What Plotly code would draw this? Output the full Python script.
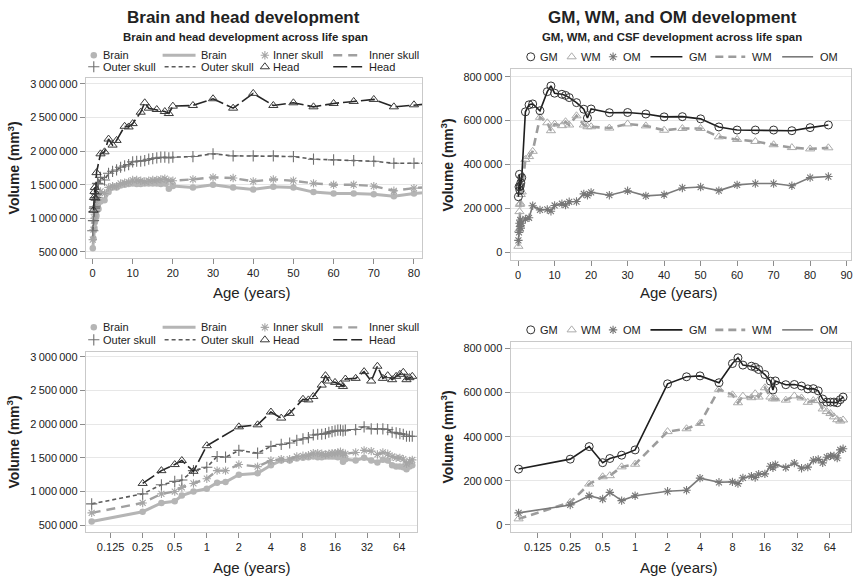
import plotly.graph_objects as go

# ---------------- data ----------------
# Ages (years) for the brain / skull / head measurements
AGE = [0.083, 0.25, 0.375, 0.5, 0.583, 0.75, 1, 1.25, 1.5, 2, 3, 4, 5, 6, 7, 8, 9, 10,
       11, 12, 13, 14, 15, 16, 17, 18, 19, 20, 25, 30, 35, 40, 45, 50, 55, 60, 65, 70,
       75, 80, 85]
BRAIN = [555, 700, 830, 856, 940, 1000, 1040, 1130, 1140, 1250, 1270, 1390, 1460, 1460,
         1490, 1500, 1510, 1520, 1510, 1510, 1520, 1520, 1520, 1520, 1510, 1520, 1440,
         1480, 1460, 1500, 1460, 1430, 1470, 1460, 1390, 1370, 1370, 1360, 1330, 1370, 1390]
INNER_SKULL = [683, 830, 965, 1000, 1060, 1120, 1190, 1310, 1310, 1400, 1370, 1460, 1480,
               1480, 1520, 1530, 1540, 1570, 1570, 1560, 1550, 1560, 1570, 1570, 1580, 1590,
               1560, 1560, 1580, 1610, 1600, 1550, 1580, 1560, 1520, 1500, 1500, 1480, 1410,
               1450, 1470]
OUTER_SKULL = [816, 965, 1100, 1150, 1170, 1310, 1360, 1520, 1510, 1610, 1570, 1670, 1700,
               1720, 1760, 1780, 1800, 1840, 1850, 1850, 1860, 1880, 1890, 1900, 1910, 1910,
               1900, 1910, 1920, 1960, 1930, 1930, 1930, 1920, 1880, 1870, 1860, 1850, 1820,
               1820, 1820]
HEAD = [None, 1120, 1310, 1400, 1460, 1300, 1680, None, None, 1960, 1990, 2180, 2090, 2160,
        None, 2370, 2360, 2410, None, 2580, 2720, 2640, None, 2620, None, 2590, 2560, 2670,
        2680, 2780, 2640, 2860, 2680, 2720, 2660, 2710, 2740, 2770, 2660, 2690, 2710]

# Ages (years) for the tissue measurements
AGE_T = [0.083, 0.25, 0.375, 0.5, 0.583, 0.75, 1, 2, 3, 4, 6, 8, 9, 10, 12, 13, 14, 16, 18,
         19, 20, 25, 30, 35, 40, 45, 50, 55, 60, 65, 70, 75, 80, 85]
GM = [253, 298, 355, 282, 301, 316, 340, 640, 672, 676, 645, 732, 758, 725, 720, 715, 705,
      682, 652, 612, 653, 636, 637, 630, 617, 618, 608, 571, 557, 557, 557, 554, 568, 580]
WM = [27, 102, 185, 218, 223, 263, 275, 423, 436, 460, 615, 590, 554, 584, 577, 595, 580,
      622, 580, 572, 572, 566, 585, 576, 556, 564, 564, 526, 514, 505, 490, 477, 471, 476]
OM = [54, 90, 132, 117, 147, 110, 132, 152, 157, 212, 193, 195, 187, 213, 221, 215, 230,
      231, 266, 259, 273, 260, 280, 257, 262, 293, 297, 281, 307, 313, 313, 303, 340, 345]

LIN_TICKS_L = [0, 10, 20, 30, 40, 50, 60, 70, 80]
LIN_TICKS_R = [0, 10, 20, 30, 40, 50, 60, 70, 80, 90]
LOG_TICKS = [0.125, 0.25, 0.5, 1, 2, 4, 8, 16, 32, 64]
LOG_LABELS = ["0.125", "0.25", "0.5", "1", "2", "4", "8", "16", "32", "64"]
Y_TICKS_L = [500000, 1000000, 1500000, 2000000, 2500000, 3000000]
Y_TICKS_R = [0, 200000, 400000, 600000, 800000]

W, H = 855, 577
FONT = "Liberation Sans, Arial, Helvetica, sans-serif"
TXT = "#222222"


def k(vals):
    return [None if v is None else v * 1000 for v in vals]


def fmt(v):
    return f"{v:,}".replace(",", "\u2009")


def xdom(a, b):
    return [a / W, b / W]


def ydom(top, bottom):
    return [1 - bottom / H, 1 - top / H]


def open_marker(symbol, size, color, width=1.0):
    return dict(symbol=symbol, size=size, color=color, line=dict(color=color, width=width))


STYLE = {
    "Brain": dict(marker=dict(symbol="circle", size=6.5, color="#b5b5b5", line=dict(width=0)),
                  line=dict(color="#b5b5b5", width=3)),
    "Inner skull": dict(marker=open_marker("asterisk-open", 7, "#a6a6a6", 1.1),
                        line=dict(color="#a0a0a0", width=2.4, dash="9px,6px")),
    "Outer skull": dict(marker=open_marker("cross-thin-open", 8, "#707070", 1.1),
                        line=dict(color="#5a5a5a", width=1.6, dash="4px,3px")),
    "Head": dict(marker=open_marker("triangle-up-open", 8, "#3a3a3a", 1),
                 line=dict(color="#262626", width=1.6, dash="14px,4px")),
    "GM": dict(marker=open_marker("circle-open", 8, "#333333", 1),
               line=dict(color="#1e1e1e", width=1.6)),
    "WM": dict(marker=open_marker("triangle-up-open", 8, "#ababab", 1),
               line=dict(color="#9c9c9c", width=2.6, dash="8px,5px")),
    "OM": dict(marker=open_marker("asterisk-open", 7, "#777777", 1.1),
               line=dict(color="#7a7a7a", width=1.6)),
}

fig = go.Figure()

brain_series = [("Brain", BRAIN), ("Inner skull", INNER_SKULL),
                ("Outer skull", OUTER_SKULL), ("Head", HEAD)]
tissue_series = [("WM", WM), ("OM", OM), ("GM", GM)]

for ax in ("", "3"):
    for name, vals in brain_series:
        st = STYLE[name]
        fig.add_trace(go.Scatter(x=AGE, y=k(vals), mode="lines+markers", name=name,
                                 marker=st["marker"], line=st["line"], connectgaps=True,
                                 showlegend=False, xaxis="x" + ax, yaxis="y" + ax))
for ax in ("2", "4"):
    for name, vals in tissue_series:
        st = STYLE[name]
        fig.add_trace(go.Scatter(x=AGE_T, y=k(vals), mode="lines+markers", name=name,
                                 marker=st["marker"], line=st["line"], connectgaps=True,
                                 showlegend=False, xaxis="x" + ax, yaxis="y" + ax))

axis_common = dict(showline=True, linecolor="#c9c9c9", linewidth=1, mirror=True,
                   ticks="outside", tickcolor="#8c8c8c", ticklen=5, tickwidth=1,
                   tickfont=dict(family=FONT, size=11, color=TXT), zeroline=False)
xcommon = dict(axis_common, showgrid=False)
ycommon = dict(axis_common, showgrid=True, gridcolor="#e7e7e7", gridwidth=1)

fig.update_layout(
    xaxis=dict(xcommon, domain=xdom(86, 423), range=[-1.66, 82.0],
               tickvals=LIN_TICKS_L, anchor="y"),
    yaxis=dict(ycommon, domain=ydom(76, 256.7), range=[412000, 3093000],
               tickvals=Y_TICKS_L, ticktext=[fmt(v) for v in Y_TICKS_L], anchor="x"),
    xaxis2=dict(xcommon, domain=xdom(511.7, 853), range=[-2.08, 91.2],
                tickvals=LIN_TICKS_R, anchor="y2"),
    yaxis2=dict(ycommon, domain=ydom(67.3, 259), range=[-36000, 835000],
                tickvals=Y_TICKS_R, ticktext=[fmt(v) for v in Y_TICKS_R], anchor="x2"),
    xaxis3=dict(xcommon, type="log", domain=xdom(86, 418), range=[-1.136, 1.974],
                tickvals=LOG_TICKS, ticktext=LOG_LABELS, anchor="y3"),
    yaxis3=dict(ycommon, domain=ydom(351.7, 531.7), range=[401000, 3064000],
                tickvals=Y_TICKS_L, ticktext=[fmt(v) for v in Y_TICKS_L], anchor="x3"),
    xaxis4=dict(xcommon, type="log", domain=xdom(511.7, 853), range=[-1.156, 2.003],
                tickvals=LOG_TICKS, ticktext=LOG_LABELS, anchor="y4"),
    yaxis4=dict(ycommon, domain=ydom(340.7, 531.7), range=[-32000, 832000],
                tickvals=Y_TICKS_R, ticktext=[fmt(v) for v in Y_TICKS_R], anchor="x4"),
    # pixel-space overlay used for the legend keys
    xaxis5=dict(domain=[0, 1], range=[0, W], visible=False, fixedrange=True, anchor="y5"),
    yaxis5=dict(domain=[0, 1], range=[H, 0], visible=False, fixedrange=True, anchor="x5"),
)

annotations = []


def text(x, y, s, size=11, bold=False, xanchor="left", angle=0, color=TXT):
    annotations.append(dict(x=x, y=y, xref="x5", yref="y5", text=f"<b>{s}</b>" if bold else s,
                            showarrow=False, xanchor=xanchor, yanchor="middle",
                            textangle=angle,
                            font=dict(family=FONT, size=size, color=color)))


def key_marker(x, y, name):
    fig.add_trace(go.Scatter(x=[x], y=[y], mode="markers", marker=STYLE[name]["marker"],
                             showlegend=False, cliponaxis=False, hoverinfo="skip",
                             xaxis="x5", yaxis="y5"))


def key_line(x0, x1, y, name):
    fig.add_trace(go.Scatter(x=[x0, x1], y=[y, y], mode="lines", line=STYLE[name]["line"],
                             showlegend=False, cliponaxis=False, hoverinfo="skip",
                             xaxis="x5", yaxis="y5"))


# Titles
text(244, 16, "Brain and head development", size=17, bold=True, xanchor="center")
text(246, 35, "Brain and head development across life span", size=11.4, bold=True,
     xanchor="center")
text(674, 16, "GM, WM, and OM development", size=17, bold=True, xanchor="center")
text(674, 35, "GM, WM, and CSF development across life span", size=11.4, bold=True,
     xanchor="center")

# Legends for the brain / head panels
for y1, y2 in ((53.5, 65), (326.5, 339)):
    key_marker(94, y1, "Brain"); text(101, y1, "Brain")
    key_line(163, 196, y1, "Brain"); text(199, y1, "Brain")
    key_marker(265.5, y1, "Inner skull"); text(272, y1, "Inner skull")
    key_line(334, 363, y1, "Inner skull"); text(368, y1, "Inner skull")
    key_marker(94, y2, "Outer skull"); text(101, y2, "Outer skull")
    key_line(165, 196, y2, "Outer skull"); text(199, y2, "Outer skull")
    key_marker(265.5, y2, "Head"); text(272, y2, "Head")
    key_line(334, 363, y2, "Head"); text(368, y2, "Head")

# Legends for the tissue panels
for y in (55, 329):
    key_marker(532, y, "GM"); text(539, y, "GM")
    key_marker(573, y, "WM"); text(580, y, "WM")
    key_marker(614.5, y, "OM"); text(622, y, "OM")
    key_line(652, 684, y, "GM"); text(689, y, "GM")
    key_line(717, 747, y, "WM"); text(752, y, "WM")
    key_line(784, 815, y, "OM"); text(820, y, "OM")

# Axis titles
for cx, ytitle_y in ((14, 166), (449, 163), (14, 441), (449, 436)):
    text(cx, ytitle_y, "Volume (mm<sup>3</sup>)", size=14, bold=True, xanchor="center",
         angle=-90)
for cx, cy in ((253, 292), (681, 292), (253, 567), (681, 567)):
    text(cx, cy, "Age (years)", size=15, xanchor="center")

fig.update_layout(
    annotations=annotations,
    width=W, height=H,
    margin=dict(l=0, r=0, t=0, b=0),
    paper_bgcolor="white",
    plot_bgcolor="rgba(0,0,0,0)",
    font=dict(family=FONT, color=TXT),
    showlegend=False,
)

fig.write_html("out.html")
